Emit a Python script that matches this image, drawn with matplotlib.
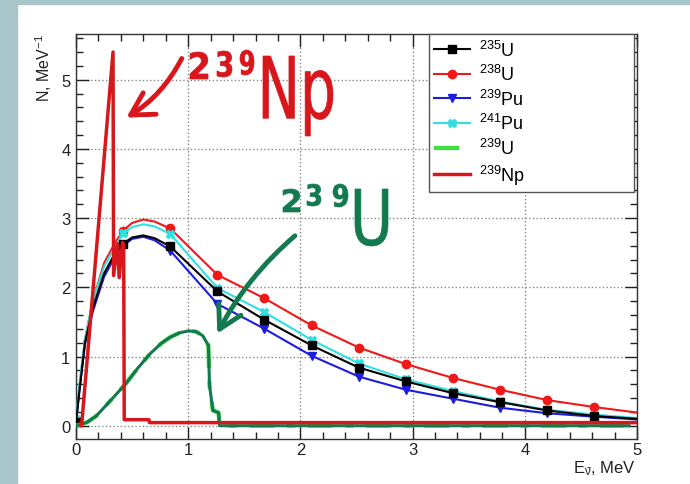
import matplotlib
matplotlib.use('Agg')
import matplotlib.pyplot as plt
import matplotlib.transforms as mtransforms
from matplotlib.patches import Rectangle, FancyArrowPatch, PathPatch
from matplotlib.textpath import TextPath
from matplotlib.font_manager import FontProperties
from matplotlib.ticker import MultipleLocator

plt.rcParams['font.family'] = ['Liberation Sans', 'DejaVu Sans']
plt.rcParams['mathtext.default'] = 'regular'

# antineutrino spectra of fission fragments (N per MeV)
e_fis = [0.0, 0.03, 0.08, 0.15, 0.25, 0.35, 0.42, 0.5, 0.6, 0.7, 0.84,
         1.26, 1.68, 2.1, 2.52, 2.94, 3.36, 3.78, 4.2, 4.62, 5.0]
u235 = [0.05, 0.5, 1.2, 1.7, 2.2, 2.5, 2.63, 2.72, 2.75, 2.71, 2.59,
        1.94, 1.53, 1.16, 0.84, 0.64, 0.47, 0.34, 0.22, 0.14, 0.10]
u238 = [0.05, 0.55, 1.25, 1.8, 2.35, 2.65, 2.82, 2.93, 2.98, 2.95, 2.85,
        2.18, 1.84, 1.45, 1.13, 0.89, 0.69, 0.52, 0.37, 0.27, 0.19]
pu239 = [0.05, 0.5, 1.18, 1.65, 2.15, 2.45, 2.6, 2.7, 2.73, 2.68, 2.53,
         1.76, 1.40, 1.01, 0.71, 0.52, 0.39, 0.26, 0.18, 0.13, 0.09]
pu241 = [0.1, 0.6, 1.25, 1.8, 2.3, 2.6, 2.78, 2.87, 2.91, 2.88, 2.77,
         1.99, 1.64, 1.24, 0.90, 0.67, 0.50, 0.35, 0.23, 0.16, 0.11]
mark_idx = [0, 6, 10, 11, 12, 13, 14, 15, 16, 17, 18, 19]

# 239U beta decay
e_u239 = [0.0, 0.1, 0.18, 0.3, 0.44, 0.55, 0.66, 0.76, 0.84, 0.92, 1.0, 1.07,
          1.13, 1.18, 1.19, 1.22, 1.27, 1.28, 4.93]
n_u239 = [0.0, 0.05, 0.14, 0.35, 0.6, 0.83, 1.04, 1.19, 1.28, 1.34, 1.37, 1.36,
          1.30, 1.16, 0.58, 0.22, 0.19, 0.0, 0.0]

# 239Np beta decay
e_np = [0.05, 0.33, 0.335, 0.37, 0.385, 0.415, 0.425, 0.43, 0.65, 0.655, 5.0]
n_np = [0.0, 5.4, 2.17, 2.63, 2.14, 2.65, 2.6, 0.087, 0.087, 0.045, 0.045]

fig = plt.figure(figsize=(6.9, 4.85), dpi=100)
fig.patches.append(Rectangle((0, 0), 17/690, 1, transform=fig.transFigure,
                             color='#A8C6CA', zorder=-10))
fig.patches.append(Rectangle((0, 1 - 5/485), 1, 5/485, transform=fig.transFigure,
                             color='#A8C6CA', zorder=-10))
ax = fig.add_axes([76/690, 45/485, 561/690, 405/485])

ax.plot(e_fis, u235, color='black', lw=1.5, marker='s', ms=6,
        markevery=mark_idx, label=r'$^{235}$U', zorder=4)
ax.plot(e_fis, u238, color='#F01818', lw=1.5, marker='o', ms=6,
        markevery=mark_idx, label=r'$^{238}$U', zorder=3)
ax.plot(e_fis, pu239, color='#1C1CE0', lw=1.5, marker='v', ms=6,
        markevery=mark_idx, label=r'$^{239}$Pu', zorder=3)
ax.plot(e_fis, pu241, color='#30E0E0', lw=1.5, marker='X', ms=6,
        markevery=mark_idx, label=r'$^{241}$Pu', zorder=3)
ax.plot(e_u239, n_u239, color='#3CE03C', lw=3, ls=(0, (6, 3, 2, 3)),
        label=r'$^{239}$U', zorder=5)
ax.plot(e_u239, n_u239, color='#137A4F', lw=2.2, zorder=6)
ax.plot(e_np, n_np, color='#D8161C', lw=2.5, label=r'$^{239}$Np', zorder=7)

ax.set_xlim(0, 5)
ax.set_ylim(-0.192, 5.66)
ax.xaxis.set_major_locator(MultipleLocator(1))
ax.xaxis.set_minor_locator(MultipleLocator(0.2))
ax.yaxis.set_major_locator(MultipleLocator(1))
ax.yaxis.set_minor_locator(MultipleLocator(0.2))
ax.tick_params(which='both', direction='in', top=True, right=True,
               labelsize=12, colors='#222222')
ax.tick_params(which='major', length=9, width=1)
ax.tick_params(which='minor', length=5, width=1)
ax.tick_params(axis='x', pad=2)
ax.tick_params(axis='y', pad=4)
ax.grid(True, which='major', ls=':', color='#888888', lw=1)
for s in ax.spines.values():
    s.set_color('#333333')
    s.set_linewidth(1)

fig.text(44/690, 1 - 34/485, r'N, MeV$^{-1}$', rotation=90, ha='center',
         va='top', fontsize=11.5, color='#222222')
fig.text(636/690, 1 - 473/485, r'E$_{\bar{\nu}}$, MeV', ha='right',
         va='baseline', fontsize=12, color='#222222')

leg = ax.legend(loc='upper left', bbox_to_anchor=(0.629, 0.61, 0.366, 0.39),
                mode='expand', fontsize=13, handlelength=2.0, handletextpad=0.5,
                labelspacing=0.25, borderpad=0.3, borderaxespad=0,
                fancybox=False, framealpha=1)
leg.get_frame().set_edgecolor('#555555')
leg.get_frame().set_linewidth(1)
leg.set_zorder(10)

# hand-written notes
red = '#D8161C'
green = '#137A4F'


def hand_text(s, left, top, w, h, color, weight='normal'):
    tp = TextPath((0, 0), s, size=1,
                  prop=FontProperties(family='DejaVu Sans', weight=weight))
    bb = tp.get_extents()
    tr = (mtransforms.Affine2D().translate(-bb.x0, -bb.y0)
          .scale(w / bb.width, h / bb.height)
          .translate(left, 485 - top - h))
    fig.patches.append(PathPatch(tr.transform_path(tp), facecolor=color,
                                 edgecolor=color, lw=0.5,
                                 transform=mtransforms.IdentityTransform(),
                                 zorder=20))


hand_text('2', 190, 53, 18, 27, red, 'bold')
hand_text('3', 217, 52, 15, 26, red, 'bold')
hand_text('9', 240, 51, 14, 25, red, 'bold')
hand_text('Np', 263, 57, 70, 80, red)
hand_text('2', 283, 190, 17, 23, green, 'bold')
hand_text('3', 307, 185, 14, 22, green, 'bold')
hand_text('9', 333, 185, 15, 23, green, 'bold')
hand_text('U', 355, 190, 33, 57, green)

fig.patches.append(FancyArrowPatch((183/690, 1 - 57/485), (124/690, 1 - 120/485),
                                   transform=fig.transFigure, color=red, lw=3.5,
                                   mutation_scale=10,
                                   arrowstyle='->,head_length=1.6,head_width=0.9',
                                   connectionstyle='arc3,rad=-0.15', zorder=20))
fig.patches.append(FancyArrowPatch((297/690, 1 - 235/485), (216/690, 1 - 337/485),
                                   transform=fig.transFigure, color=green, lw=3.5,
                                   mutation_scale=10,
                                   arrowstyle='->,head_length=1.6,head_width=0.9',
                                   connectionstyle='arc3,rad=0.1', zorder=20))

fig.savefig('out.png', dpi=100)
